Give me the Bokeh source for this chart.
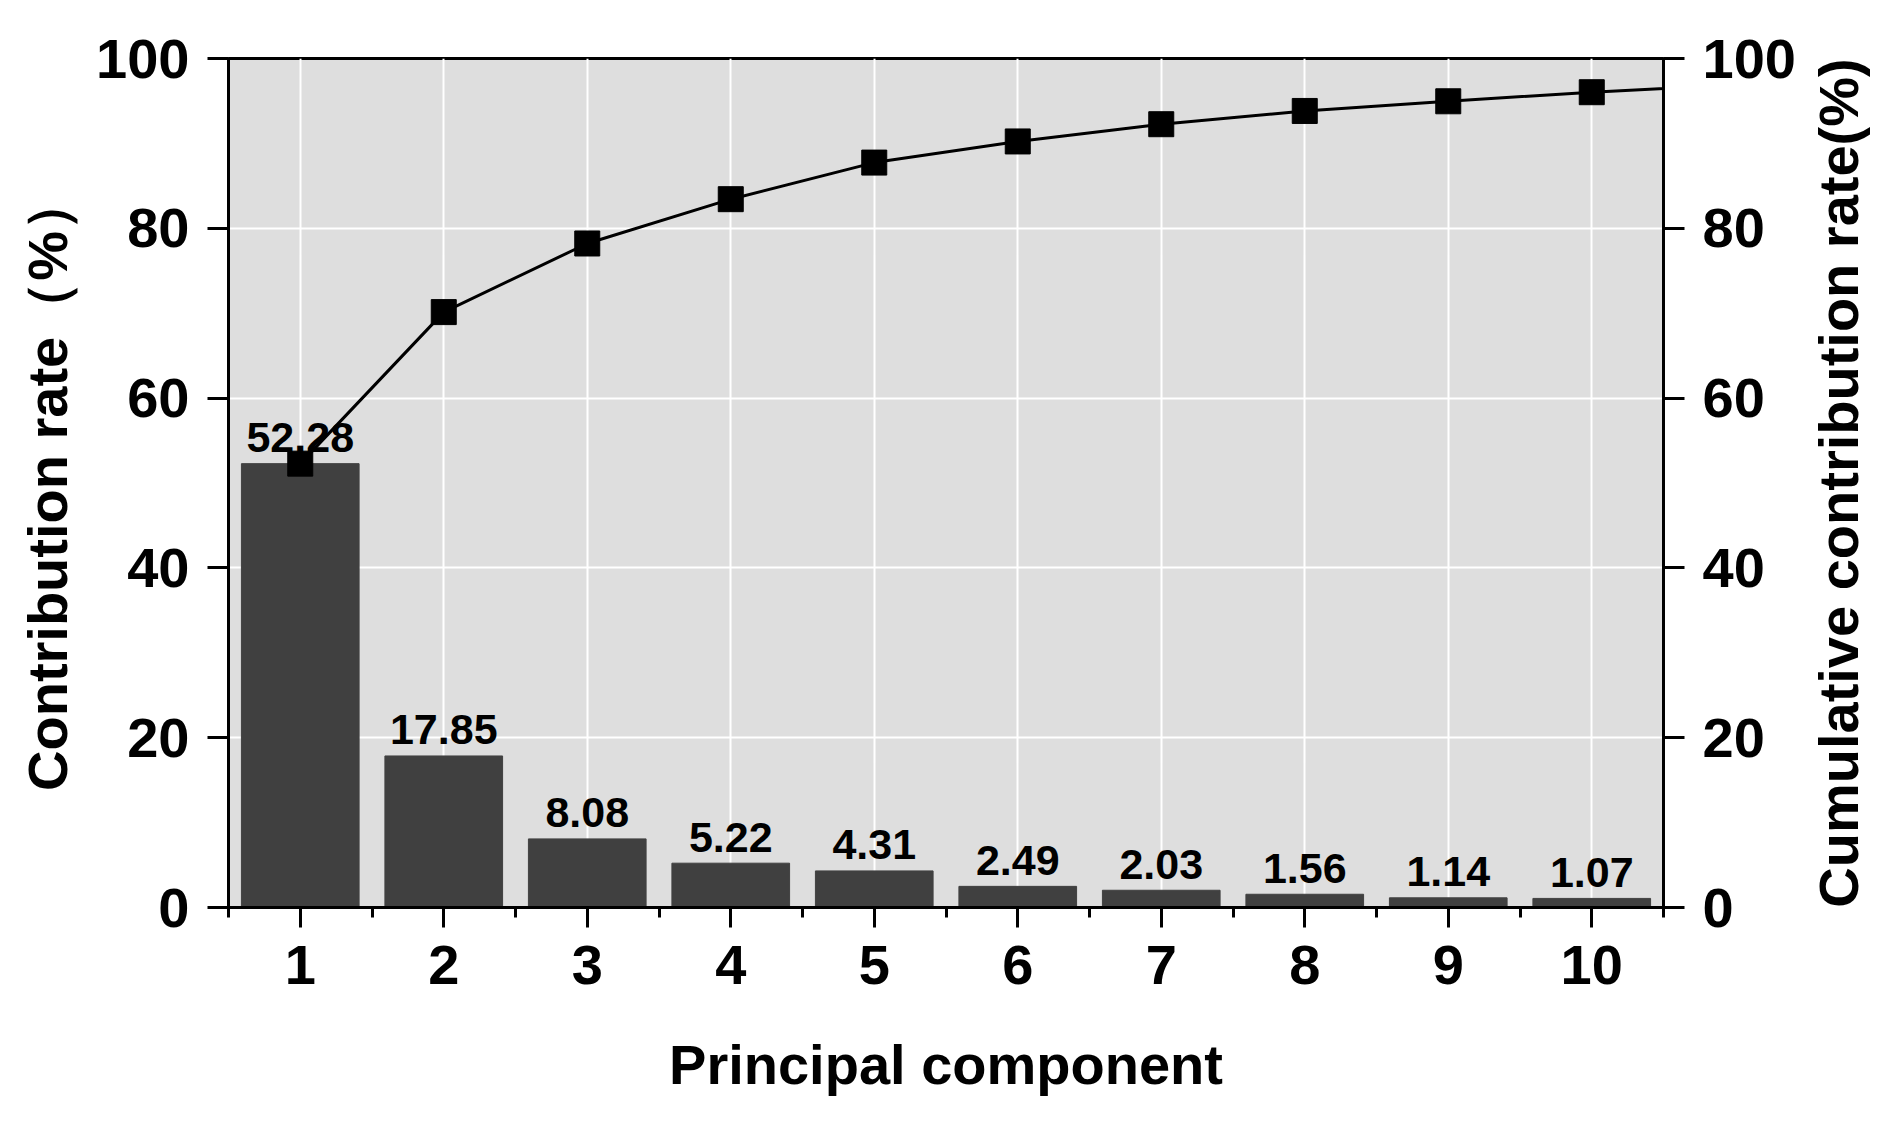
import math
from bokeh.plotting import figure
from bokeh.layouts import row
from bokeh.models import LinearAxis, FixedTicker, Range1d, ColumnDataSource
from bokeh.core.properties import value
from bokeh.embed import file_html
from bokeh.resources import INLINE

# ---- data ----
components = [1, 2, 3, 4, 5, 6, 7, 8, 9, 10]
contribution = [52.28, 17.85, 8.08, 5.22, 4.31, 2.49, 2.03, 1.56, 1.14, 1.07]
cum_components = [1, 2, 3, 4, 5, 6, 7, 8, 9, 10, 11]
cumulative = [52.28, 70.13, 78.21, 83.43, 87.74, 90.23, 92.26, 93.82, 94.96, 96.03, 96.9]
y_ticks = [0, 20, 40, 60, 80, 100]
x_minor = [0.5, 1.5, 2.5, 3.5, 4.5, 5.5, 6.5, 7.5, 8.5, 9.5, 10.5]
bar_labels = [f"{v:.2f}" for v in contribution]
right_title = "Cumulative contribution rate(%)"

FONT = "Liberation Sans"
H = 1114
W_MAIN = 1800          # main chart (frame + both tick-label columns)
W_TITLE = 82           # strip holding the right-hand title
TITLE_X = 38           # title centre inside the strip, px
FRAME_L, FRAME_R, FRAME_T, FRAME_B = 228, 1663, 58, 907

p = figure(width=W_MAIN, height=H, x_range=Range1d(0.5, 10.5), y_range=Range1d(0, 100),
           output_backend="svg", toolbar_location=None,
           min_border_left=FRAME_L, min_border_right=W_MAIN - FRAME_R,
           min_border_top=FRAME_T, min_border_bottom=H - FRAME_B)
p.background_fill_color = "#dedede"
p.border_fill_color = "white"
p.outline_line_color = "black"
p.outline_line_width = 3

bars = ColumnDataSource(dict(x=components, top=contribution, label=bar_labels))
p.vbar(x="x", top="top", width=0.82, source=bars, fill_color="#404040", line_color="#404040")
p.text(x="x", y="top", text="label", source=bars, y_offset=-26,
       text_align="center", text_baseline="alphabetic",
       text_font=value(FONT), text_font_style="bold", text_font_size="43px", text_color="black")
p.line(cum_components, cumulative, line_color="black", line_width=3)
p.scatter(cum_components, cumulative, marker="square", size=25, fill_color="black", line_color="black")

# grids
p.xgrid.ticker = FixedTicker(ticks=components)
p.ygrid.ticker = FixedTicker(ticks=y_ticks)
for g in (p.xgrid, p.ygrid):
    g.grid_line_color = "white"
    g.grid_line_width = 2

# axes
p.xaxis.ticker = FixedTicker(ticks=components, minor_ticks=x_minor)
p.yaxis.ticker = FixedTicker(ticks=y_ticks)
p.xaxis.axis_label = "Principal component"
p.yaxis.axis_label = "Contribution rate（%）"

right = LinearAxis(ticker=FixedTicker(ticks=y_ticks))
p.add_layout(right, "right")

for ax in (p.xaxis[0], p.yaxis[0], right):
    ax.axis_line_width = 3
    ax.axis_line_color = "black"
    ax.major_tick_line_width = 3
    ax.major_tick_line_color = "black"
    ax.major_tick_in = 0
    ax.major_tick_out = 21
    ax.minor_tick_in = 0
    ax.minor_tick_out = 0
    ax.major_label_text_font = FONT
    ax.major_label_text_font_style = "bold"
    ax.major_label_text_font_size = "56px"
    ax.major_label_text_color = "black"
    ax.axis_label_text_font = FONT
    ax.axis_label_text_font_style = "bold"
    ax.axis_label_text_font_size = "56px"
    ax.axis_label_text_color = "black"
    ax.major_label_standoff = 18

p.xaxis[0].major_tick_out = 20
p.xaxis[0].minor_tick_out = 10
p.xaxis[0].minor_tick_line_width = 3
p.xaxis[0].minor_tick_line_color = "black"
p.xaxis[0].axis_label_standoff = 46
p.yaxis[0].axis_label_standoff = 14

# narrow strip to the right carrying the right-hand axis title (reads bottom-to-top)
t = figure(width=W_TITLE, height=H, x_range=Range1d(0, W_TITLE), y_range=p.y_range,
           x_axis_type=None, y_axis_type=None, output_backend="svg", toolbar_location=None,
           min_border_left=0, min_border_right=0,
           min_border_top=FRAME_T, min_border_bottom=H - FRAME_B)
t.outline_line_color = None
t.background_fill_color = "white"
t.border_fill_color = "white"
t.grid.visible = False
t.text(x=[TITLE_X], y=[50], text=[right_title], angle=math.pi / 2,
       text_align="center", text_baseline="middle",
       text_font=value(FONT), text_font_style="bold", text_font_size="56px", text_color="black")

layout = row(p, t)
open("out.html", "w").write(file_html(layout, INLINE))
